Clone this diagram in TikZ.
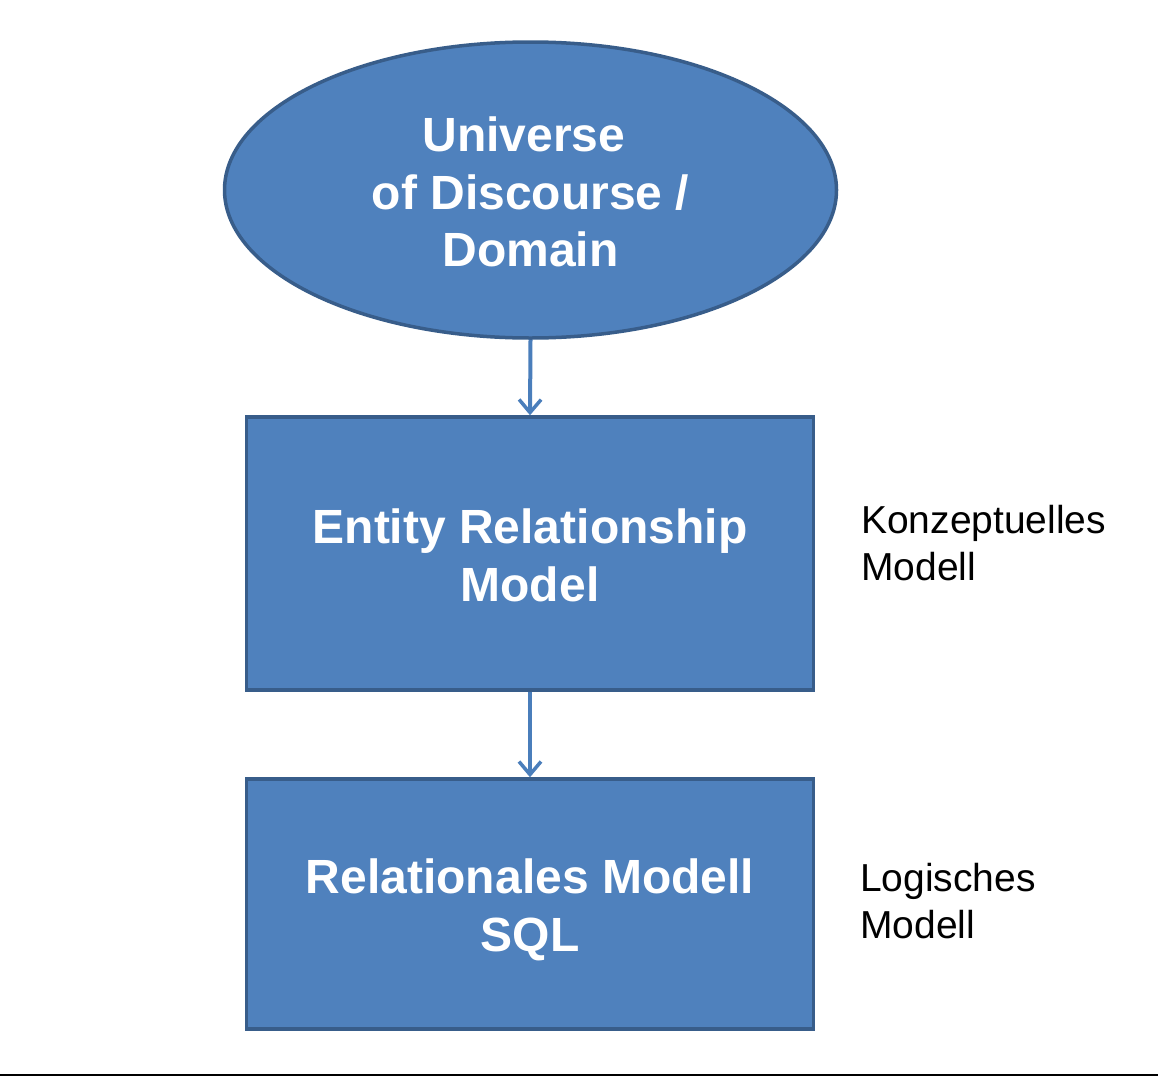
\documentclass[tikz,border=0pt]{standalone}
\usepackage{fontspec}
\setmainfont{Liberation Sans}
\usetikzlibrary{shapes.geometric,arrows.meta}
\definecolor{boxfill}{HTML}{4F81BD}
\definecolor{boxline}{HTML}{385D8A}
\definecolor{arrowcol}{HTML}{4A7EBB}
\begin{document}
\begin{tikzpicture}[x=1pt,y=-1pt,
  shapebox/.style={draw=boxline,fill=boxfill,line width=3.5pt,inner sep=0pt,
    text=white,align=center,font=\fontsize{48}{57.6}\selectfont\bfseries},
  blockbox/.style={shapebox,rectangle,minimum width=567pt},
  flowarrow/.style={draw=arrowcol,line width=4pt,-{Straight Barb[length=13pt,width=22pt,line width=3.5pt]}},
  sidelabel/.style={anchor=west,align=left,inner sep=0pt,font=\fontsize{39}{47}\selectfont}]
\useasboundingbox (0,0) rectangle (1158,1076);
\node[shapebox,ellipse,minimum width=612pt,minimum height=296pt] (uod) at (530.5,190)
  {\rule{0pt}{39pt}Universe\kern0.278em\\of Discourse /\\Domain};
\node[blockbox,minimum height=273pt] (er) at (530,553.5) {\rule{0pt}{39pt}Entity Relationship\\Model};
\node[blockbox,minimum height=250pt] (rm) at (530,904) {\rule{0pt}{47pt}Relationales Modell\\SQL};
\draw[flowarrow] (uod.south) -- (er.north);
\draw[flowarrow] (er.south) -- (rm.north);
\node[sidelabel] (k) at (861,543) {Konzeptuelles\\Modell};
\node[sidelabel] (l) at (860,901) {Logisches\\Modell};
\draw[line width=2pt,black] (0,1074.5) -- (1158,1074.5);
\end{tikzpicture}
\end{document}
